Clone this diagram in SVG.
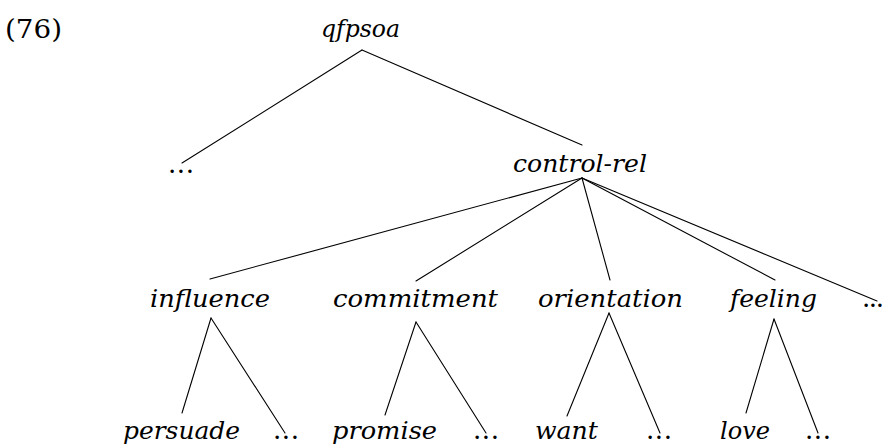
<svg xmlns="http://www.w3.org/2000/svg" width="885" height="447" viewBox="0 0 885 447">
  <defs>
    <style>
      text { font-family: "DejaVu Serif", serif; fill: #000; }
      .lbl { font-style: italic; font-size: 25px; }
      .num { font-style: normal; font-size: 26px; }
      .dots { font-style: normal; font-size: 26px; }
      .edge { stroke: #000; stroke-width: 1.1; fill: none; stroke-linecap: round; }
    </style>
  </defs>
  <rect width="885" height="447" fill="#fff"/>

  <!-- example number -->
  <text class="num" x="5" y="38" textLength="57" lengthAdjust="spacingAndGlyphs">(76)</text>

  <!-- tree edges -->
  <g id="connectors">
    <line class="edge" x1="362" y1="50" x2="182" y2="163"/>
    <line class="edge" x1="362" y1="50" x2="582" y2="145"/>
    <line class="edge" x1="582" y1="178" x2="210" y2="279"/>
    <line class="edge" x1="582" y1="178" x2="416" y2="281"/>
    <line class="edge" x1="582" y1="178" x2="610" y2="280"/>
    <line class="edge" x1="582" y1="178" x2="775" y2="280"/>
    <line class="edge" x1="582" y1="178" x2="877" y2="301"/>
    <line class="edge" x1="211" y1="318" x2="182" y2="413"/>
    <line class="edge" x1="211" y1="318" x2="285" y2="433"/>
    <line class="edge" x1="416" y1="322" x2="385" y2="415"/>
    <line class="edge" x1="416" y1="322" x2="486" y2="433"/>
    <line class="edge" x1="609" y1="313" x2="567" y2="416"/>
    <line class="edge" x1="609" y1="313" x2="660" y2="433"/>
    <line class="edge" x1="774" y1="319" x2="746" y2="413"/>
    <line class="edge" x1="774" y1="319" x2="818" y2="433"/>
  </g>

  <!-- root -->
  <g id="qfpsoa"><text class="lbl" x="321" y="37" textLength="79" lengthAdjust="spacingAndGlyphs">qfpsoa</text></g>

  <!-- level 1 -->
  <g id="dots-l1"><text class="dots" x="168" y="173" textLength="26" lengthAdjust="spacing">...</text></g>
  <g id="control-rel"><text class="lbl" x="513" y="172" textLength="134" lengthAdjust="spacingAndGlyphs">control-rel</text></g>

  <!-- level 2 -->
  <g id="influence"><text class="lbl" x="150" y="307" textLength="120" lengthAdjust="spacingAndGlyphs">influence</text></g>
  <g id="commitment"><text class="lbl" x="333" y="307" textLength="165" lengthAdjust="spacingAndGlyphs">commitment</text></g>
  <g id="orientation"><text class="lbl" x="538" y="307" textLength="145" lengthAdjust="spacingAndGlyphs">orientation</text></g>
  <g id="feeling"><text class="lbl" x="730" y="307" textLength="87" lengthAdjust="spacingAndGlyphs">feeling</text></g>
  <g id="dots-l2"><text class="dots" x="862" y="307" textLength="22" lengthAdjust="spacing">...</text></g>

  <!-- level 3 -->
  <g id="persuade"><text class="lbl" x="123" y="439" textLength="117" lengthAdjust="spacingAndGlyphs">persuade</text></g>
  <g id="dots-influence"><text class="dots" x="273" y="439" textLength="26" lengthAdjust="spacing">...</text></g>
  <g id="promise"><text class="lbl" x="332" y="439" textLength="105" lengthAdjust="spacingAndGlyphs">promise</text></g>
  <g id="dots-commitment"><text class="dots" x="473" y="439" textLength="26" lengthAdjust="spacing">...</text></g>
  <g id="want"><text class="lbl" x="535" y="439" textLength="63" lengthAdjust="spacingAndGlyphs">want</text></g>
  <g id="dots-orientation"><text class="dots" x="646" y="439" textLength="26" lengthAdjust="spacing">...</text></g>
  <g id="love"><text class="lbl" x="720" y="439" textLength="50" lengthAdjust="spacingAndGlyphs">love</text></g>
  <g id="dots-feeling"><text class="dots" x="805" y="439" textLength="26" lengthAdjust="spacing">...</text></g>
</svg>
